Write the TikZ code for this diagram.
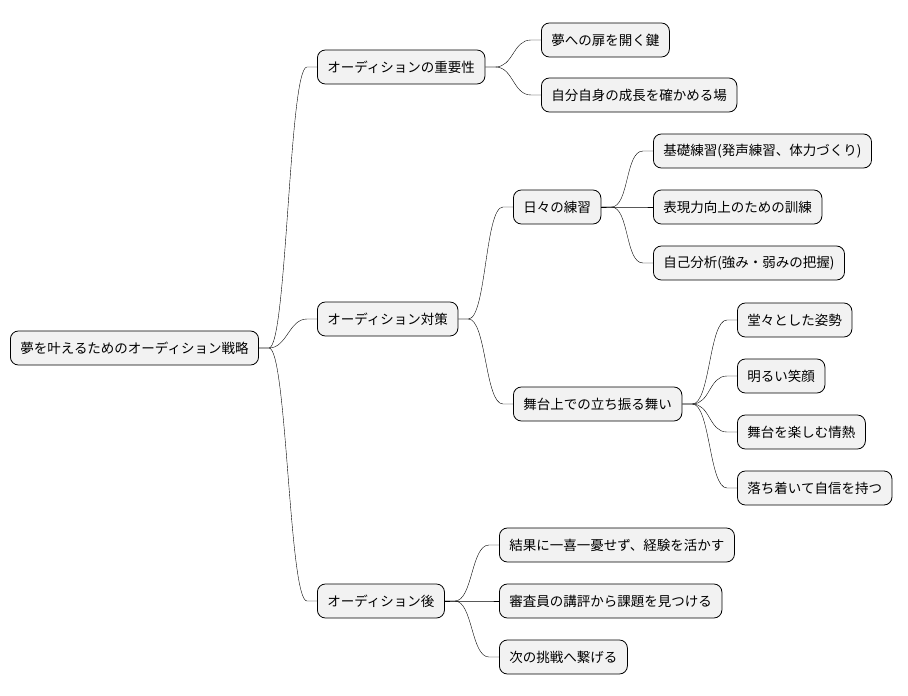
\documentclass[tikz,border=0pt]{standalone}
\usepackage{fontspec}
\setmainfont{Noto Sans CJK JP}
\usetikzlibrary{calc}
\tikzset{
  topic/.style={draw=black, fill=gray!10, rounded corners=8pt, line width=0.8pt,
    minimum height=34pt, inner xsep=10pt, anchor=west,
    font=\fontsize{13.5}{16}\selectfont},
  branch/.style={line width=0.6pt, to path={-- ++(10,0) .. controls +(18,0) and +(-18,0) .. ([xshift=-10pt]\tikztotarget.west) -- (\tikztotarget.west)}}
}
\begin{document}
\begin{tikzpicture}[x=1pt,y=-1pt]
    \useasboundingbox (0,0) rectangle (908,696);

    \node[topic] (root) at (10, 348) {夢を叶えるためのオーディション戦略};
    \node[topic] (imp) at (317, 67) {オーディションの重要性};
    \node[topic] (imp1) at (541, 40) {夢への扉を開く鍵};
    \node[topic] (imp2) at (541, 95) {自分自身の成長を確かめる場};
    \node[topic] (prep) at (317, 319) {オーディション対策};
    \node[topic] (daily) at (513, 207) {日々の練習};
    \node[topic] (d1) at (653, 151) {基礎練習(発声練習、体力づくり)};
    \node[topic] (d2) at (653, 207) {表現力向上のための訓練};
    \node[topic] (d3) at (653, 263) {自己分析(強み・弱みの把握)};
    \node[topic] (stage) at (513, 404) {舞台上での立ち振る舞い};
    \node[topic] (s1) at (737, 320) {堂々とした姿勢};
    \node[topic] (s2) at (737, 376) {明るい笑顔};
    \node[topic] (s3) at (737, 432) {舞台を楽しむ情熱};
    \node[topic] (s4) at (737, 488) {落ち着いて自信を持つ};
    \node[topic] (after) at (317, 601) {オーディション後};
    \node[topic] (a1) at (499, 545) {結果に一喜一憂せず、経験を活かす};
    \node[topic] (a2) at (499, 601) {審査員の講評から課題を見つける};
    \node[topic] (a3) at (499, 657) {次の挑戦へ繋げる};

    \foreach \c in {imp, prep, after} \draw (root.east) to[branch] (\c);
    \foreach \c in {imp1, imp2} \draw (imp.east) to[branch] (\c);
    \foreach \c in {daily, stage} \draw (prep.east) to[branch] (\c);
    \foreach \c in {d1, d2, d3} \draw (daily.east) to[branch] (\c);
    \foreach \c in {s1, s2, s3, s4} \draw (stage.east) to[branch] (\c);
    \foreach \c in {a1, a2, a3} \draw (after.east) to[branch] (\c);

\end{tikzpicture}
\end{document}
